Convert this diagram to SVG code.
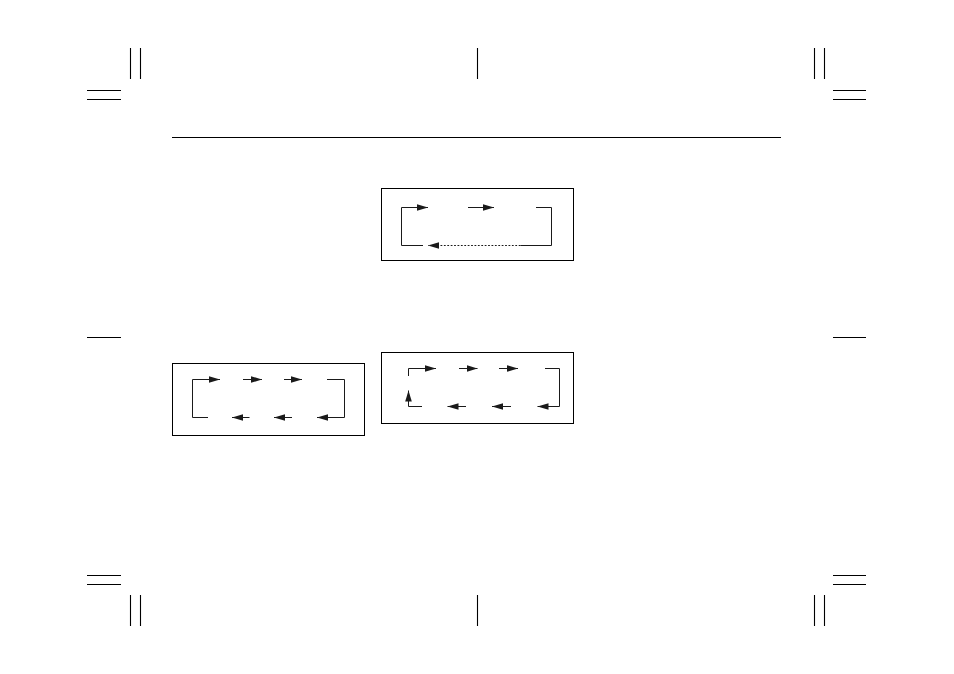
<svg xmlns="http://www.w3.org/2000/svg" width="954" height="674" viewBox="0 0 954 674">
<style>
.mk{stroke:#000;stroke-width:1.1;fill:none}
.box{stroke:#000;stroke-width:1;fill:none}
.ln{stroke:#1a1a1a;stroke-width:1;fill:none}
.dot{stroke-dasharray:1.8 1.6}
</style>
<defs>
<marker id="ah" markerUnits="userSpaceOnUse" markerWidth="12" markerHeight="8" refX="11" refY="3.3" orient="auto" viewBox="0 0 12 6.6">
<path d="M0,0 L11,3.3 L0,6.6 Z" fill="#1a1a1a" stroke="none"/>
</marker>
</defs>
<rect width="954" height="674" fill="#fff"/>
<g id="crop-marks" class="mk">
<path d="M130.5,48V79M140.5,48V79M87,90.5H121M87,99.5H121"/>
<path d="M477.5,48V79"/>
<path d="M814.5,48V79M824.5,48V79M833,90.5H866M833,99.5H866"/>
<path d="M87,337.5H121M833,337.5H866"/>
<path d="M87,575.5H121M87,584.5H121M130.5,595V626M140.5,595V626"/>
<path d="M477.5,595V626"/>
<path d="M833,575.5H866M833,584.5H866M814.5,595V626M824.5,595V626"/>
</g>
<g id="header-rule">
<path d="M172,137.5H781" stroke="#000" stroke-width="1.1"/>
</g>
<g id="box-top">
<rect class="box" x="381.5" y="188.5" width="192" height="72"/>
</g>
<g id="box-left">
<rect class="box" x="172.5" y="363.5" width="192" height="72"/>
</g>
<g id="box-right">
<rect class="box" x="381.5" y="352.5" width="192" height="71"/>
</g>
<g id="connectors" class="ln">
<path d="M423,245.5H401.5V207.5H428" marker-end="url(#ah)"/>
<path d="M468,207.5H494" marker-end="url(#ah)"/>
<path d="M536,207.5H551.5V245.5H520.5"/>
<path class="dot" d="M520.5,245.5H428" marker-end="url(#ah)"/>

<path d="M208,417.5H192.5V379.5H220" marker-end="url(#ah)"/>
<path d="M243,379.5H262" marker-end="url(#ah)"/>
<path d="M284,379.5H302" marker-end="url(#ah)"/>
<path d="M327,379.5H344.5V417.5H317" marker-end="url(#ah)"/>
<path d="M292,417.5H274" marker-end="url(#ah)"/>
<path d="M249.5,417.5H232" marker-end="url(#ah)"/>

<path d="M408.5,376V368.5H436" marker-end="url(#ah)"/>
<path d="M459,368.5H477.5" marker-end="url(#ah)"/>
<path d="M499,368.5H518" marker-end="url(#ah)"/>
<path d="M545,368.5H559.5V406.5H537.5" marker-end="url(#ah)"/>
<path d="M511,406.5H492" marker-end="url(#ah)"/>
<path d="M466,406.5H447.5" marker-end="url(#ah)"/>
<path d="M422,406.5H408.5V390.5" marker-end="url(#ah)"/>
</g>
</svg>
